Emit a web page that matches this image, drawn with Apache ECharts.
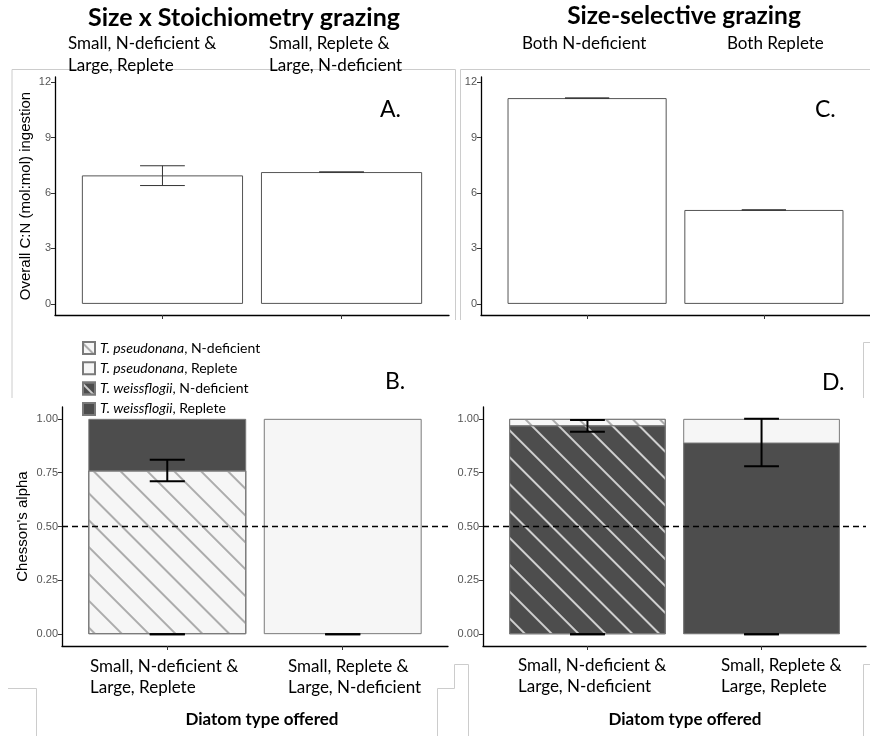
<!DOCTYPE html>
<html><head><meta charset="utf-8">
<script src="https://cdn.jsdelivr.net/npm/echarts@6/dist/echarts.min.js"></script>
<style>html,body{margin:0;padding:0;background:#fff}#c{width:870px;height:736px}</style>
</head><body><div id="c"></div>
<script>
// ---------- data ----------
const topLabelsA = ['Small, N-deficient &\nLarge, Replete', 'Small, Replete &\nLarge, N-deficient'];
const topLabelsC = ['Both N-deficient', 'Both Replete'];
const axisLabelsB = ['Small, N-deficient &\nLarge, Replete', 'Small, Replete &\nLarge, N-deficient'];
const axisLabelsD = ['Small, N-deficient &\nLarge, N-deficient', 'Small, Replete &\nLarge, Replete'];
const positions = [1, 2];

const cnA = [6.95, 7.13];
const cnA_lo = [6.40, 7.13];
const cnA_hi = [7.47, 7.13];
const cnC = [11.13, 5.08];
const cnC_lo = [11.13, 5.08];
const cnC_hi = [11.13, 5.08];
const cnTicks = [0, 3, 6, 9, 12];
const alphaTicks = [0, 0.25, 0.5, 0.75, 1];

const speciesNames = ['T. pseudonana, N-deficient', 'T. pseudonana, Replete', 'T. weissflogii, N-deficient', 'T. weissflogii, Replete'];
// segments, bottom to top
const B_pseudoN = [0.76, null];
const B_pseudoR = [null, 1.00];
const B_weissN = [null, null];
const B_weissR = [0.24, null];
const D_weissN = [0.97, null];
const D_weissR = [null, 0.89];
const D_pseudoN = [0.03, null];
const D_pseudoR = [null, 0.11];

const B_errPos = [1, 1, 2];
const B_errLo = [0.71, 0, 0];
const B_errHi = [0.81, 0, 0];
const D_errPos = [1, 1, 2, 2];
const D_errLo = [0.94, 0, 0.78, 0];
const D_errHi = [0.995, 0, 1.00, 0];
const refLine = 0.5;

// ---------- styles ----------
const LIGHT = '#f6f6f6', DARK = '#4d4d4d', EDGE = '#7a7a7a';
const CAL = 'Lato', HEL = 'Liberation Sans';
const hatch = c => ({symbol: 'rect', symbolSize: 1, dashArrayX: [1, 0], dashArrayY: [1.2, 16.5], rotation: Math.PI / 4, color: c});
const speciesStyle = {
  'T. pseudonana, N-deficient': {color: LIGHT, decal: hatch('#acacac')},
  'T. pseudonana, Replete': {color: LIGHT},
  'T. weissflogii, N-deficient': {color: DARK, decal: hatch('#cfcfcf')},
  'T. weissflogii, Replete': {color: DARK}
};

function xAx(gi) {
  return {type: 'value', gridIndex: gi, min: 0.4, max: 2.6,
    axisLine: {show: true, onZero: false, lineStyle: {color: '#000', width: 1.3}},
    axisTick: {show: true, customValues: positions, length: 4, lineStyle: {color: '#333'}},
    axisLabel: {show: false, customValues: positions},
    splitLine: {show: false}};
}
function yAx(gi, min, max, ticks, fmt, name, gap) {
  return {type: 'value', gridIndex: gi, min: min, max: max,
    axisLine: {show: true, onZero: false, lineStyle: {color: '#000', width: 1.3}},
    axisTick: {show: true, customValues: ticks, length: 4, lineStyle: {color: '#333'}},
    axisLabel: {customValues: ticks, formatter: fmt, color: '#555', fontFamily: HEL, fontSize: 11, margin: 4},
    splitLine: {show: false},
    name: name || '', nameLocation: 'middle', nameGap: gap || 0, nameRotate: 90,
    nameTextStyle: {fontFamily: HEL, fontSize: 15, color: '#000'}};
}
function errRender(capFrac, lw, color) {
  return function (params, api) {
    const x = api.value(0), lo = api.value(1), hi = api.value(2);
    const a = api.coord([x, hi]), b = api.coord([x, lo]);
    const hw = api.size([capFrac, 0])[0] / 2;
    const st = {stroke: color, lineWidth: lw};
    return {type: 'group', children: [
      {type: 'line', shape: {x1: a[0], y1: a[1], x2: b[0], y2: b[1]}, style: st},
      {type: 'line', shape: {x1: a[0] - hw, y1: a[1], x2: a[0] + hw, y2: a[1]}, style: st},
      {type: 'line', shape: {x1: b[0] - hw, y1: b[1], x2: b[0] + hw, y2: b[1]}, style: st}
    ]};
  };
}
function errSeries(gi, pos, lo, hi, capFrac, lw, color) {
  return {type: 'custom', xAxisIndex: gi, yAxisIndex: gi, z: 10, silent: true,
    renderItem: errRender(capFrac, lw, color), encode: {x: 0, y: [1, 2]},
    data: pos.map((p, i) => [p, lo[i], hi[i]])};
}
// stacked bars drawn as overlapping cumulative bars (top segment first)
function stackedSeries(gi, names, segs) {
  const out = names.map((name, k) => ({
    type: 'bar', name: name, xAxisIndex: gi, yAxisIndex: gi, barWidth: '90%', barGap: '-100%',
    itemStyle: Object.assign({borderColor: EDGE, borderWidth: 1}, speciesStyle[name]),
    data: positions.map((p, i) => {
      if (segs[k][i] == null) return [p, null];
      let s = 0;
      for (let j = 0; j <= k; j++) s += segs[j][i] || 0;
      return [p, s];
    })
  }));
  out.reverse();
  out[out.length - 1].markLine = {silent: true, symbol: 'none', label: {show: false},
    lineStyle: {type: [6, 4], color: '#000', width: 1.4}, data: [{yAxis: refLine}]};
  return out;
}
const fmtAlpha = v => v.toFixed(2);
const fmtCN = v => String(v);

const frame = {stroke: '#cccccc', lineWidth: 1, fill: null};
const poly = pts => ({type: 'polyline', silent: true, shape: {points: pts}, style: frame});
const txt = (x, y, text, font, align, lh) => ({type: 'text', silent: true, x: x, y: y,
  style: {text: text, font: font, fill: '#000', align: align || 'left', verticalAlign: 'middle', lineHeight: lh || 22}});

const option = {
  animation: false,
  backgroundColor: '#fff',
  grid: [
    {left: 55, top: 77, width: 394, height: 238},
    {left: 481, top: 77, width: 395, height: 238},
    {left: 62, top: 407, width: 386, height: 239},
    {left: 483, top: 407, width: 383, height: 239}
  ],
  xAxis: [xAx(0), xAx(1), xAx(2), xAx(3)],
  yAxis: [
    yAx(0, -0.6, 12.27, cnTicks, fmtCN, 'Overall C:N (mol:mol) ingestion', 22),
    yAx(1, -0.6, 12.27, cnTicks, fmtCN),
    yAx(2, -0.055, 1.055, alphaTicks, fmtAlpha, "Chesson's alpha", 32),
    yAx(3, -0.055, 1.055, alphaTicks, fmtAlpha)
  ],
  legend: {
    data: speciesNames, orient: 'vertical', left: 82, top: 341, padding: 0,
    itemWidth: 12, itemHeight: 12, itemGap: 6.3, icon: 'rect', selectedMode: false,
    textStyle: {fontFamily: CAL, fontSize: 14, color: '#000', lineHeight: 12,
      rich: {i: {fontStyle: 'italic', fontFamily: CAL, fontSize: 14, color: '#000', lineHeight: 12}}},
    formatter: n => { const k = n.indexOf(', '); return '{i|' + n.slice(0, k) + '}' + n.slice(k); }
  },
  series: [
    {type: 'bar', name: 'A', xAxisIndex: 0, yAxisIndex: 0, barWidth: '90%',
      itemStyle: {color: '#fff', borderColor: '#555', borderWidth: 1},
      data: positions.map((p, i) => [p, cnA[i]])},
    errSeries(0, positions, cnA_lo, cnA_hi, 0.25, 1, '#333'),
    {type: 'bar', name: 'C', xAxisIndex: 1, yAxisIndex: 1, barWidth: '90%',
      itemStyle: {color: '#fff', borderColor: '#555', borderWidth: 1},
      data: positions.map((p, i) => [p, cnC[i]])},
    errSeries(1, positions, cnC_lo, cnC_hi, 0.25, 1, '#333'),
    ...stackedSeries(2, [speciesNames[0], speciesNames[1], speciesNames[2], speciesNames[3]],
      [B_pseudoN, B_pseudoR, B_weissN, B_weissR]),
    errSeries(2, B_errPos, B_errLo, B_errHi, 0.2, 2, '#000'),
    ...stackedSeries(3, [speciesNames[2], speciesNames[3], speciesNames[0], speciesNames[1]],
      [D_weissN, D_weissR, D_pseudoN, D_pseudoR]),
    errSeries(3, D_errPos, D_errLo, D_errHi, 0.2, 2, '#000')
  ],
  graphic: [
    poly([[12, 398], [12, 69.5], [455.5, 69.5], [455.5, 320]]),
    poly([[460.5, 320], [460.5, 69.5], [870, 69.5]]),
    poly([[8, 688.5], [36.5, 688.5], [36.5, 736]]),
    poly([[437.5, 736], [437.5, 688.5], [454.5, 688.5], [454.5, 664.5], [468.5, 664.5], [468.5, 736]]),
    poly([[863.5, 398], [863.5, 342.5], [870, 342.5]]),
    poly([[863.5, 736], [863.5, 664.5], [870, 664.5]]),
    txt(244, 18, 'Size x Stoichiometry grazing', 'bold 25px ' + CAL, 'center'),
    txt(684, 16, 'Size-selective grazing', 'bold 24.5px ' + CAL, 'center'),
    txt(68, 55, topLabelsA[0], '17px ' + CAL),
    txt(269, 55, topLabelsA[1], '17px ' + CAL),
    txt(522, 44, topLabelsC[0], '17px ' + CAL),
    txt(727, 44, topLabelsC[1], '17px ' + CAL),
    txt(380, 110, 'A.', '23px ' + CAL),
    txt(815, 110, 'C.', '23px ' + CAL),
    txt(385, 382, 'B.', '23px ' + CAL),
    txt(822, 383, 'D.', '23px ' + CAL),
    txt(90, 677, axisLabelsB[0], '17px ' + CAL, 'left', 21),
    txt(288, 677, axisLabelsB[1], '17px ' + CAL, 'left', 21),
    txt(518, 676, axisLabelsD[0], '17px ' + CAL, 'left', 21),
    txt(721, 676, axisLabelsD[1], '17px ' + CAL, 'left', 21),
    txt(262, 720, 'Diatom type offered', 'bold 17px ' + CAL, 'center'),
    txt(685, 720, 'Diatom type offered', 'bold 17px ' + CAL, 'center')
  ]
};
const chart = echarts.init(document.getElementById('c'), null, {renderer: 'canvas'});
chart.setOption(option);
</script></body></html>
